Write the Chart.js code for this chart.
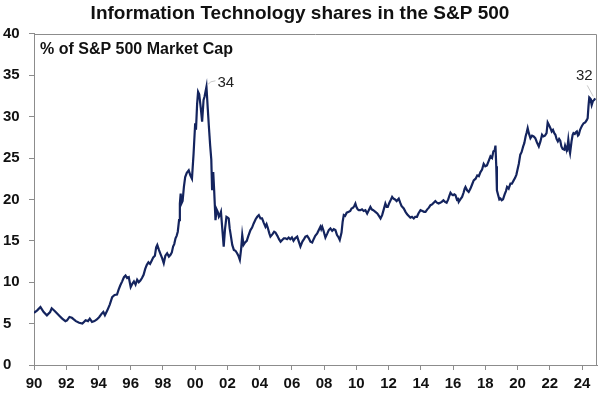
<!DOCTYPE html>
<html>
<head>
<meta charset="utf-8">
<script src="https://cdn.jsdelivr.net/npm/chart.js@4/dist/chart.umd.min.js"></script>
<style>
  body { margin: 0; background: #fff; }
  #grafico { display: block; }
</style>
</head>
<body>
<canvas id="grafico" width="600" height="397"></canvas>
<script>
// IT sector weight in the S&P 500 (% of market cap)
const anos = [
  1990.0, 1990.2, 1990.4, 1990.6, 1990.8, 1991.0, 1991.1, 1991.3, 1991.45, 1991.6, 1991.75, 1991.95,
  1992.05, 1992.2, 1992.35, 1992.47, 1992.6, 1992.8, 1993.0, 1993.1, 1993.2, 1993.35, 1993.46, 1993.6,
  1993.75, 1993.9, 1994.05, 1994.2, 1994.3, 1994.4, 1994.55, 1994.7, 1994.85, 1995.0, 1995.15, 1995.25,
  1995.35, 1995.47, 1995.58, 1995.68, 1995.78, 1995.88, 1996.0, 1996.1, 1996.2, 1996.3, 1996.4, 1996.5,
  1996.6, 1996.7, 1996.8, 1996.9, 1997.0, 1997.1, 1997.2, 1997.3, 1997.4, 1997.5, 1997.58, 1997.65,
  1997.75, 1997.85, 1997.95, 1998.05, 1998.15, 1998.26, 1998.37, 1998.47, 1998.55, 1998.63, 1998.7, 1998.78,
  1998.85, 1998.92, 1999.0, 1999.05, 1999.1, 1999.15, 1999.22, 1999.3, 1999.38, 1999.48, 1999.6, 1999.7,
  1999.8, 1999.9, 2000.0, 2000.05, 2000.12, 2000.18, 2000.25, 2000.35, 2000.43, 2000.52, 2000.58, 2000.7,
  2000.78, 2000.85, 2000.93, 2001.0, 2001.05, 2001.12, 2001.18, 2001.26, 2001.33, 2001.4, 2001.47, 2001.53,
  2001.6, 2001.68, 2001.77, 2001.85, 2001.94, 2002.02, 2002.08, 2002.14, 2002.19, 2002.3, 2002.4, 2002.5,
  2002.6, 2002.68, 2002.77, 2002.85, 2002.92, 2003.0, 2003.1, 2003.2, 2003.3, 2003.43, 2003.53, 2003.63,
  2003.75, 2003.85, 2003.95, 2004.05, 2004.15, 2004.25, 2004.36, 2004.43, 2004.5, 2004.6, 2004.67, 2004.8,
  2004.9, 2004.98, 2005.1, 2005.2, 2005.3, 2005.4, 2005.5, 2005.6, 2005.7, 2005.8, 2005.9, 2006.0,
  2006.1, 2006.2, 2006.33, 2006.43, 2006.53, 2006.65, 2006.75, 2006.84, 2006.95, 2007.05, 2007.15, 2007.26,
  2007.35, 2007.45, 2007.57, 2007.67, 2007.77, 2007.82, 2007.88, 2007.95, 2008.08, 2008.2, 2008.29, 2008.39,
  2008.5, 2008.6, 2008.7, 2008.8, 2008.9, 2008.97, 2009.08, 2009.15, 2009.22, 2009.3, 2009.4, 2009.53,
  2009.62, 2009.7, 2009.8, 2009.87, 2009.94, 2010.0, 2010.08, 2010.15, 2010.25, 2010.35, 2010.45, 2010.56,
  2010.67, 2010.77, 2010.87, 2010.95, 2011.05, 2011.18, 2011.3, 2011.4, 2011.5, 2011.6, 2011.7, 2011.8,
  2011.88, 2011.95, 2012.05, 2012.15, 2012.22, 2012.3, 2012.4, 2012.5, 2012.63, 2012.72, 2012.8, 2012.94,
  2013.05, 2013.15, 2013.25, 2013.35, 2013.45, 2013.56, 2013.65, 2013.76, 2013.85, 2013.98, 2014.1, 2014.2,
  2014.29, 2014.4, 2014.5, 2014.6, 2014.7, 2014.8, 2014.9, 2015.0, 2015.1, 2015.2, 2015.3, 2015.4,
  2015.5, 2015.6, 2015.7, 2015.78, 2015.84, 2015.92, 2016.0, 2016.08, 2016.15, 2016.25, 2016.3, 2016.35,
  2016.45, 2016.56, 2016.65, 2016.72, 2016.77, 2016.87, 2016.97, 2017.08, 2017.18, 2017.28, 2017.4, 2017.5,
  2017.6, 2017.7, 2017.8, 2017.9, 2018.0, 2018.1, 2018.2, 2018.32, 2018.42, 2018.5, 2018.58, 2018.63,
  2018.68, 2018.72, 2018.8, 2018.87, 2018.94, 2019.02, 2019.1, 2019.2, 2019.28, 2019.35, 2019.45, 2019.56,
  2019.65, 2019.76, 2019.85, 2019.93, 2020.0, 2020.08, 2020.17, 2020.25, 2020.35, 2020.42, 2020.5, 2020.57,
  2020.63, 2020.7, 2020.8, 2020.9, 2021.0, 2021.1, 2021.2, 2021.32, 2021.42, 2021.52, 2021.6, 2021.7,
  2021.8, 2021.87, 2021.95, 2022.04, 2022.12, 2022.2, 2022.28, 2022.35, 2022.42, 2022.5, 2022.58, 2022.65,
  2022.72, 2022.8, 2022.9, 2022.95, 2023.0, 2023.08, 2023.15, 2023.22, 2023.26, 2023.35, 2023.42, 2023.47,
  2023.55, 2023.62, 2023.68, 2023.75, 2023.8, 2023.88, 2023.95, 2024.0, 2024.1, 2024.2, 2024.3, 2024.35,
  2024.4, 2024.45, 2024.5, 2024.55, 2024.6, 2024.68, 2024.75, 2024.82
];
const pesoTI = [
  6.3, 6.6, 7.0, 6.4, 6.0, 6.4, 6.85, 6.5, 6.2, 5.9, 5.6, 5.3,
  5.4, 5.8, 5.7, 5.5, 5.3, 5.1, 5.0, 5.2, 5.4, 5.3, 5.6, 5.2,
  5.3, 5.5, 5.8, 6.2, 6.4, 6.0, 6.6, 7.3, 8.2, 8.45, 8.5, 9.1,
  9.6, 10.1, 10.6, 10.8, 10.5, 10.6, 9.4, 9.8, 10.1, 9.7, 10.3, 10.0,
  10.2, 10.5, 10.9, 11.6, 12.1, 12.4, 12.2, 12.6, 13.0, 13.2, 14.2, 14.5,
  13.9, 13.4, 12.9, 12.3, 13.2, 13.5, 13.1, 13.3, 13.6, 14.3, 14.6, 15.3,
  15.6, 16.1, 17.5, 19.5, 20.7, 19.5, 19.8, 21.5, 22.7, 23.2, 23.5, 22.9,
  22.5, 25.5, 29.2, 28.4, 31.5, 33.0, 32.7, 31.0, 29.4, 32.0, 32.4, 33.6,
  31.0, 28.8, 26.5, 24.8, 21.1, 23.3, 21.0, 17.5, 18.8, 18.5, 17.9, 18.1,
  18.5, 16.5, 14.3, 16.4, 17.9, 17.8, 17.7, 16.5, 15.9, 14.5, 13.9, 13.8,
  13.5, 13.2, 12.7, 14.0, 15.7, 14.5, 14.8, 15.0, 15.6, 16.3, 16.6, 17.1,
  17.6, 17.9, 18.1, 17.7, 17.7, 17.2, 16.7, 17.0, 16.6, 15.9, 15.5, 15.8,
  16.1, 16.0, 15.6, 15.2, 14.9, 15.1, 15.3, 15.3, 15.2, 15.4, 15.2, 15.4,
  15.0, 15.3, 15.5, 14.9, 14.3, 14.9, 15.2, 15.5, 15.6, 15.3, 14.9, 14.8,
  15.2, 15.6, 15.9, 16.3, 16.7, 16.4, 16.7, 16.3, 15.4, 15.9, 16.3, 16.5,
  16.2, 16.4, 16.3, 15.7, 15.4, 15.1, 16.0, 17.3, 18.1, 18.0, 18.4, 18.5,
  18.6, 18.9, 19.0, 19.2, 19.5, 19.1, 18.8, 18.7, 18.7, 18.8, 18.6, 18.7,
  18.3, 18.7, 19.1, 18.8, 18.7, 18.5, 18.3, 18.0, 17.7, 18.1, 18.8, 19.5,
  19.1, 19.1, 19.6, 20.0, 20.3, 20.1, 20.0, 19.8, 20.1, 19.6, 19.2, 18.9,
  18.5, 18.2, 18.0, 17.8, 17.9, 17.7, 17.9, 17.9, 18.3, 18.7, 18.6, 18.5,
  18.5, 18.8, 19.0, 19.3, 19.4, 19.6, 19.8, 19.6, 19.5, 19.6, 19.7, 19.9,
  19.7, 19.6, 20.0, 20.5, 20.8, 20.6, 20.5, 20.6, 20.5, 19.9, 20.2, 19.7,
  20.0, 20.3, 20.8, 21.3, 21.5, 21.1, 20.9, 21.3, 21.8, 22.3, 22.5, 22.9,
  22.8, 23.3, 23.6, 24.3, 24.0, 24.1, 24.6, 25.2, 25.0, 25.8, 25.9, 26.5,
  24.0, 21.1, 20.5, 20.0, 20.1, 19.9, 20.0, 20.6, 21.0, 21.5, 21.3, 21.9,
  21.9, 22.3, 22.6, 23.0, 23.6, 24.3, 25.4, 25.7, 26.4, 26.8, 27.6, 28.1,
  28.6, 28.0, 27.4, 27.7, 27.6, 27.4, 26.9, 26.4, 27.0, 27.8, 27.6, 27.7,
  28.0, 29.3, 29.0, 28.6, 28.2, 28.4, 28.0, 27.8, 27.3, 27.0, 27.3, 27.1,
  26.4, 26.1, 26.0, 26.5, 26.2, 26.0, 27.2, 26.0, 25.6, 27.0, 27.8, 28.0,
  27.9, 28.1, 28.2, 27.7, 27.8, 28.4, 28.7, 28.9, 29.2, 29.3, 29.6, 29.8,
  31.2, 32.3, 32.2, 31.9, 31.4, 31.9, 32.0, 32.2
];
const anosRotulos = [1990, 1992, 1994, 1996, 1998, 2000, 2002, 2004, 2006, 2008, 2010, 2012, 2014, 2016, 2018, 2020, 2022, 2024];
const anoFinal = 2024.93;
const destaquesAno = [2000.7, 2024.82];
const destaquesTexto = ['34', '32'];

const fonte = '"Liberation Sans", Arial, sans-serif';
const cinzaEixo = '#8c8c8c';
const azulLinha = '#14245e';

// frame, subtitle and the two callout labels
const pluginMoldura = {
    id: 'moldura',
    beforeDatasetsDraw(chart) {
        const ctx = chart.ctx;
        const a = chart.chartArea;
        ctx.save();
        ctx.strokeStyle = cinzaEixo;
        ctx.lineWidth = 1;
        ctx.beginPath();
        ctx.moveTo(Math.round(a.left) + 0.5, Math.round(a.top) + 0.5);
        ctx.lineTo(Math.round(a.right) - 0.5, Math.round(a.top) + 0.5);
        ctx.lineTo(Math.round(a.right) - 0.5, Math.round(a.bottom) + 0.5);
        ctx.stroke();

        ctx.fillStyle = '#111';
        ctx.font = 'bold 16px ' + fonte;
        ctx.textBaseline = 'alphabetic';
        ctx.textAlign = 'left';
        ctx.fillText('% of S&P 500 Market Cap', a.left + 6, a.top + 20);
        ctx.restore();
    },
    afterDatasetsDraw(chart) {
        const ctx = chart.ctx;
        const sx = chart.scales.x;
        const sy = chart.scales.y;
        ctx.save();
        ctx.font = '15px ' + fonte;
        ctx.fillStyle = '#222';
        ctx.strokeStyle = '#c8c8c8';
        ctx.lineWidth = 1;
        ctx.textBaseline = 'middle';

        // 2000 peak
        let i = anos.indexOf(destaquesAno[0]);
        let px = sx.getPixelForValue(anos[i]);
        let py = sy.getPixelForValue(pesoTI[i]);
        ctx.beginPath();
        ctx.moveTo(px + 1, py - 2);
        ctx.quadraticCurveTo(px + 4, py - 6, px + 9, py - 6);
        ctx.stroke();
        ctx.textAlign = 'left';
        ctx.fillText(destaquesTexto[0], px + 11, py - 4);

        // latest value
        i = anos.indexOf(destaquesAno[1]);
        px = sx.getPixelForValue(anos[i]);
        py = sy.getPixelForValue(pesoTI[i]);
        ctx.beginPath();
        ctx.moveTo(px - 2, py - 2);
        ctx.lineTo(px - 8, py - 13);
        ctx.stroke();
        ctx.textAlign = 'center';
        ctx.fillText(destaquesTexto[1], px - 11, py - 23);
        ctx.restore();
    }
};

const pontos = anos.map((a, i) => ({ x: a, y: pesoTI[i] }));

new Chart(document.getElementById('grafico').getContext('2d'), {
    type: 'line',
    data: {
        datasets: [{
            data: pontos,
            borderColor: azulLinha,
            borderWidth: 2.2,
            pointRadius: 0,
            tension: 0,
            fill: false
        }]
    },
    options: {
        responsive: false,
        animation: false,
        devicePixelRatio: 1,
        layout: { padding: { left: 3, right: 3, top: 0, bottom: 0 } },
        plugins: {
            legend: { display: false },
            tooltip: { enabled: false },
            title: {
                display: true,
                text: 'Information Technology shares in the S&P 500',
                color: '#111',
                font: { family: fonte, size: 19, weight: 'bold' },
                padding: { top: 2, bottom: 9 }
            }
        },
        scales: {
            x: {
                type: 'linear',
                min: 1990,
                max: anoFinal,
                afterFit(scale) { scale.height = 32; },
                afterBuildTicks(scale) { scale.ticks = anosRotulos.map(v => ({ value: v })); },
                grid: { drawOnChartArea: false, drawTicks: true, tickLength: 5, color: cinzaEixo },
                border: { display: true, color: cinzaEixo },
                ticks: {
                    autoSkip: false,
                    maxRotation: 0,
                    padding: 5,
                    color: '#111',
                    font: { family: fonte, size: 15, weight: 'bold' },
                    callback: v => String(v % 100).padStart(2, '0')
                }
            },
            y: {
                min: 0,
                max: 40,
                afterFit(scale) { scale.width = 31; },
                grid: { drawOnChartArea: false, drawTicks: true, tickLength: 5, color: cinzaEixo },
                border: { display: true, color: cinzaEixo },
                ticks: {
                    stepSize: 5,
                    crossAlign: 'far',
                    padding: 2,
                    color: '#111',
                    font: { family: fonte, size: 15, weight: 'bold' }
                }
            }
        }
    },
    plugins: [pluginMoldura]
});
</script>
</body>
</html>
